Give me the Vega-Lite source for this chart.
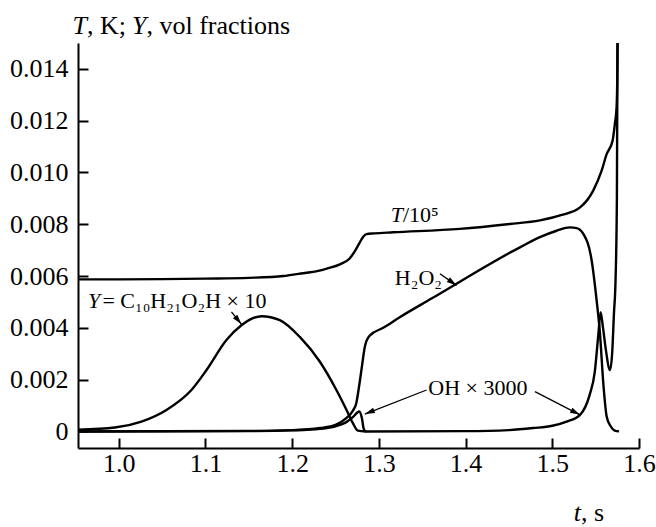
{
  "$schema": "https://vega.github.io/schema/vega-lite/v6.json",
  "width": 561,
  "height": 405,
  "autosize": {"type": "none"},
  "padding": {"left": 78, "top": 43, "right": 17, "bottom": 79},
  "background": "white",
  "config": {
    "view": {"stroke": null},
    "font": "Liberation Serif",
    "axis": {
      "grid": false,
      "title": null,
      "domainColor": "black",
      "domainWidth": 2,
      "tickColor": "black",
      "tickWidth": 2,
      "tickSize": -10,
      "labelColor": "black",
      "labelFont": "Liberation Serif",
      "labelFontSize": 26,
      "labelFlush": false,
      "labelOverlap": false,
      "labelBound": false
    }
  },
  "datasets": {
    "curves": [
      {"s": "T", "t": 0.953, "v": 0.00587},
      {"s": "T", "t": 1.0, "v": 0.00587},
      {"s": "T", "t": 1.05, "v": 0.00588},
      {"s": "T", "t": 1.1, "v": 0.0059},
      {"s": "T", "t": 1.15, "v": 0.00593},
      {"s": "T", "t": 1.19, "v": 0.006},
      {"s": "T", "t": 1.21, "v": 0.0061},
      {"s": "T", "t": 1.23, "v": 0.0062},
      {"s": "T", "t": 1.24, "v": 0.00629},
      {"s": "T", "t": 1.255, "v": 0.00645},
      {"s": "T", "t": 1.266, "v": 0.00667},
      {"s": "T", "t": 1.273, "v": 0.007},
      {"s": "T", "t": 1.278, "v": 0.0073},
      {"s": "T", "t": 1.282, "v": 0.00752},
      {"s": "T", "t": 1.2855, "v": 0.00762},
      {"s": "T", "t": 1.295, "v": 0.00765},
      {"s": "T", "t": 1.3165, "v": 0.00769},
      {"s": "T", "t": 1.3934, "v": 0.00782},
      {"s": "T", "t": 1.451, "v": 0.00801},
      {"s": "T", "t": 1.4857, "v": 0.00815},
      {"s": "T", "t": 1.51, "v": 0.00835},
      {"s": "T", "t": 1.532, "v": 0.00865},
      {"s": "T", "t": 1.5472, "v": 0.0093},
      {"s": "T", "t": 1.5568, "v": 0.01006},
      {"s": "T", "t": 1.5626, "v": 0.0107},
      {"s": "T", "t": 1.5695, "v": 0.01122},
      {"s": "T", "t": 1.5721, "v": 0.01186},
      {"s": "T", "t": 1.5741, "v": 0.0125},
      {"s": "T", "t": 1.5749, "v": 0.0135},
      {"s": "T", "t": 1.5753, "v": 0.015},
      {"s": "Y", "t": 0.953, "v": 0.000065},
      {"s": "Y", "t": 0.9955, "v": 0.00015},
      {"s": "Y", "t": 1.0262, "v": 0.00038},
      {"s": "Y", "t": 1.055, "v": 0.00083},
      {"s": "Y", "t": 1.0838, "v": 0.0016},
      {"s": "Y", "t": 1.1012, "v": 0.00237},
      {"s": "Y", "t": 1.1242, "v": 0.00353},
      {"s": "Y", "t": 1.1415, "v": 0.0041},
      {"s": "Y", "t": 1.1646, "v": 0.00445},
      {"s": "Y", "t": 1.1857, "v": 0.0043},
      {"s": "Y", "t": 1.2088, "v": 0.00365},
      {"s": "Y", "t": 1.2318, "v": 0.0027},
      {"s": "Y", "t": 1.251, "v": 0.0016},
      {"s": "Y", "t": 1.2627, "v": 0.00083},
      {"s": "Y", "t": 1.27, "v": 0.00032},
      {"s": "Y", "t": 1.2758, "v": 0.00003},
      {"s": "Y", "t": 1.285, "v": 0},
      {"s": "H2O2", "t": 0.953, "v": 0},
      {"s": "H2O2", "t": 1.15, "v": 0.00002},
      {"s": "H2O2", "t": 1.2, "v": 0.00005},
      {"s": "H2O2", "t": 1.232, "v": 0.00013},
      {"s": "H2O2", "t": 1.25, "v": 0.00025},
      {"s": "H2O2", "t": 1.262, "v": 0.0005},
      {"s": "H2O2", "t": 1.27, "v": 0.0008},
      {"s": "H2O2", "t": 1.274, "v": 0.0011},
      {"s": "H2O2", "t": 1.277, "v": 0.0017},
      {"s": "H2O2", "t": 1.28, "v": 0.0024},
      {"s": "H2O2", "t": 1.284, "v": 0.0033},
      {"s": "H2O2", "t": 1.2895, "v": 0.0037},
      {"s": "H2O2", "t": 1.305, "v": 0.0040},
      {"s": "H2O2", "t": 1.3245, "v": 0.00442},
      {"s": "H2O2", "t": 1.3607, "v": 0.00513},
      {"s": "H2O2", "t": 1.4627, "v": 0.00711},
      {"s": "H2O2", "t": 1.4857, "v": 0.0075},
      {"s": "H2O2", "t": 1.505, "v": 0.00775},
      {"s": "H2O2", "t": 1.5204, "v": 0.00788},
      {"s": "H2O2", "t": 1.528, "v": 0.00785},
      {"s": "H2O2", "t": 1.5358, "v": 0.00763},
      {"s": "H2O2", "t": 1.5454, "v": 0.0066},
      {"s": "H2O2", "t": 1.5511, "v": 0.00507},
      {"s": "H2O2", "t": 1.555, "v": 0.00378},
      {"s": "H2O2", "t": 1.5588, "v": 0.00187},
      {"s": "H2O2", "t": 1.5627, "v": 0.00058},
      {"s": "H2O2", "t": 1.5673, "v": 0.0002},
      {"s": "H2O2", "t": 1.572, "v": 0.00003},
      {"s": "H2O2", "t": 1.577, "v": 0},
      {"s": "OH", "t": 0.953, "v": 0},
      {"s": "OH", "t": 1.15, "v": 0.00001},
      {"s": "OH", "t": 1.2, "v": 0.00004},
      {"s": "OH", "t": 1.232, "v": 0.0001},
      {"s": "OH", "t": 1.25, "v": 0.0002},
      {"s": "OH", "t": 1.262, "v": 0.00035},
      {"s": "OH", "t": 1.27, "v": 0.00055},
      {"s": "OH", "t": 1.2773, "v": 0.00077},
      {"s": "OH", "t": 1.2805, "v": 0.0005},
      {"s": "OH", "t": 1.2825, "v": 0.0001},
      {"s": "OH", "t": 1.285, "v": 0},
      {"s": "OH", "t": 1.4, "v": 0.00001},
      {"s": "OH", "t": 1.45, "v": 0.00005},
      {"s": "OH", "t": 1.478, "v": 0.00013},
      {"s": "OH", "t": 1.5, "v": 0.00022},
      {"s": "OH", "t": 1.5166, "v": 0.00038},
      {"s": "OH", "t": 1.532, "v": 0.00064},
      {"s": "OH", "t": 1.543, "v": 0.0014},
      {"s": "OH", "t": 1.549, "v": 0.0023},
      {"s": "OH", "t": 1.553, "v": 0.0037},
      {"s": "OH", "t": 1.5557, "v": 0.0046},
      {"s": "OH", "t": 1.5585, "v": 0.004},
      {"s": "OH", "t": 1.562, "v": 0.0031},
      {"s": "OH", "t": 1.5665, "v": 0.00237},
      {"s": "OH", "t": 1.569, "v": 0.003},
      {"s": "OH", "t": 1.5711, "v": 0.00455},
      {"s": "OH", "t": 1.573, "v": 0.0059},
      {"s": "OH", "t": 1.5745, "v": 0.009},
      {"s": "OH", "t": 1.5752, "v": 0.015}
    ],
    "arrows": [
      {"id": "a1", "t": 1.13, "v": 0.004615, "t2": 1.1415, "v2": 0.00414},
      {"id": "a2", "t": 1.3704, "v": 0.00609, "t2": 1.3896, "v2": 0.00564},
      {"id": "a3", "t": 1.355, "v": 0.0016, "t2": 1.2838, "v2": 0.00067},
      {"id": "a4", "t": 1.48, "v": 0.00154, "t2": 1.532, "v2": 0.00064}
    ],
    "titleItalic": [
      {"label": "T", "t": 0.9634, "v": 0.01533},
      {"label": "Y", "t": 1.0319, "v": 0.01533},
      {"label": "t", "t": 1.533, "v": -0.00344}
    ],
    "titleUpright": [
      {"label": ", K;", "t": 0.9634, "v": 0.01533},
      {"label": ", vol fractions", "t": 1.0319, "v": 0.01533},
      {"label": ", s", "t": 1.533, "v": -0.00344}
    ],
    "annItalic": [
      {"label": "T", "t": 1.3278, "v": 0.00808},
      {"label": "Y", "t": 0.9788, "v": 0.00476}
    ],
    "annUpright": [
      {"label": "/10⁵", "t": 1.3278, "v": 0.00808},
      {"label": "\u2005= C₁₀H₂₁O₂H × 10", "t": 0.9812, "v": 0.00476},
      {"label": "H₂O₂", "t": 1.3184, "v": 0.00564}
    ],
    "annCenter": [
      {"label": "OH × 3000", "t": 1.4142, "v": 0.00141}
    ]
  },
  "encoding": {
    "x": {
      "field": "t",
      "type": "quantitative",
      "scale": {"domain": [0.953, 1.6], "nice": false, "zero": false},
      "axis": {
        "values": [1.0, 1.1, 1.2, 1.3, 1.4, 1.5, 1.6],
        "format": ".1f",
        "labelPadding": 12
      }
    },
    "y": {
      "field": "v",
      "type": "quantitative",
      "scale": {"domain": [-0.00064, 0.015], "nice": false, "zero": false},
      "axis": {
        "values": [0, 0.002, 0.004, 0.006, 0.008, 0.01, 0.012, 0.014],
        "labelExpr": "datum.value == 0 ? '0' : format(datum.value, '.3f')",
        "labelPadding": 20
      }
    }
  },
  "layer": [
    {
      "data": {"name": "curves"},
      "mark": {"type": "line", "color": "black", "strokeWidth": 2.4, "interpolate": "monotone"},
      "encoding": {"detail": {"field": "s"}}
    },
    {
      "data": {"name": "arrows"},
      "mark": {"type": "rule", "color": "black", "strokeWidth": 1.3},
      "encoding": {"x2": {"field": "t2"}, "y2": {"field": "v2"}}
    },
    {
      "data": {"name": "arrows"},
      "transform": [{"filter": "datum.id == 'a1'"}],
      "mark": {"type": "point", "shape": "M0,0L-0.28,1L0.28,1Z", "size": 400, "filled": true, "color": "black", "opacity": 1, "angle": 141},
      "encoding": {"x": {"field": "t2", "type": "quantitative"}, "y": {"field": "v2", "type": "quantitative"}}
    },
    {
      "data": {"name": "arrows"},
      "transform": [{"filter": "datum.id == 'a2'"}],
      "mark": {"type": "point", "shape": "M0,0L-0.28,1L0.28,1Z", "size": 400, "filled": true, "color": "black", "opacity": 1, "angle": 125},
      "encoding": {"x": {"field": "t2", "type": "quantitative"}, "y": {"field": "v2", "type": "quantitative"}}
    },
    {
      "data": {"name": "arrows"},
      "transform": [{"filter": "datum.id == 'a3'"}],
      "mark": {"type": "point", "shape": "M0,0L-0.28,1L0.28,1Z", "size": 400, "filled": true, "color": "black", "opacity": 1, "angle": 248.5},
      "encoding": {"x": {"field": "t2", "type": "quantitative"}, "y": {"field": "v2", "type": "quantitative"}}
    },
    {
      "data": {"name": "arrows"},
      "transform": [{"filter": "datum.id == 'a4'"}],
      "mark": {"type": "point", "shape": "M0,0L-0.28,1L0.28,1Z", "size": 400, "filled": true, "color": "black", "opacity": 1, "angle": 117.4},
      "encoding": {"x": {"field": "t2", "type": "quantitative"}, "y": {"field": "v2", "type": "quantitative"}}
    },
    {
      "data": {"name": "titleItalic"},
      "mark": {"type": "text", "font": "Liberation Serif", "fontSize": 26, "fontStyle": "italic", "align": "right", "baseline": "alphabetic", "color": "black"},
      "encoding": {"text": {"field": "label"}}
    },
    {
      "data": {"name": "titleUpright"},
      "mark": {"type": "text", "font": "Liberation Serif", "fontSize": 26, "align": "left", "baseline": "alphabetic", "color": "black"},
      "encoding": {"text": {"field": "label"}}
    },
    {
      "data": {"name": "annItalic"},
      "mark": {"type": "text", "font": "Liberation Serif", "fontSize": 22, "fontStyle": "italic", "align": "right", "baseline": "alphabetic", "color": "black"},
      "encoding": {"text": {"field": "label"}}
    },
    {
      "data": {"name": "annUpright"},
      "mark": {"type": "text", "font": "Liberation Serif", "fontSize": 22, "align": "left", "baseline": "alphabetic", "color": "black"},
      "encoding": {"text": {"field": "label"}}
    },
    {
      "data": {"name": "annCenter"},
      "mark": {"type": "text", "font": "Liberation Serif", "fontSize": 22, "align": "center", "baseline": "alphabetic", "color": "black"},
      "encoding": {"text": {"field": "label"}}
    }
  ]
}
